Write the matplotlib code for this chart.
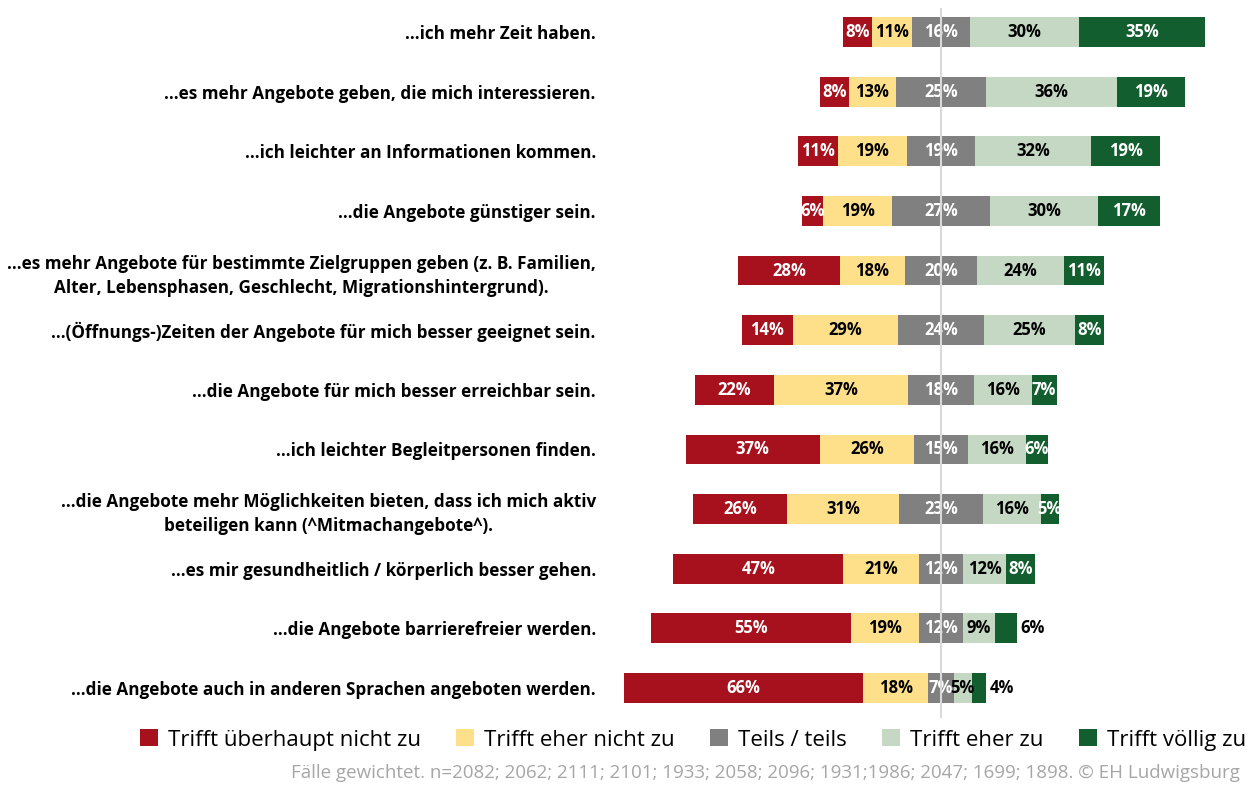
import matplotlib
matplotlib.use("Agg")
import matplotlib.pyplot as plt
from matplotlib.patches import Patch
import numpy as np

plt.rcParams['font.family'] = ['Open Sans', 'DejaVu Sans']

categories = [
    "...ich mehr Zeit haben.",
    "...es mehr Angebote geben, die mich interessieren.",
    "...ich leichter an Informationen kommen.",
    "...die Angebote günstiger sein.",
    "...es mehr Angebote für bestimmte Zielgruppen geben (z. B. Familien,\nAlter, Lebensphasen, Geschlecht, Migrationshintergrund).",
    "...(Öffnungs-)Zeiten der Angebote für mich besser geeignet sein.",
    "...die Angebote für mich besser erreichbar sein.",
    "...ich leichter Begleitpersonen finden.",
    "...die Angebote mehr Möglichkeiten bieten, dass ich mich aktiv\nbeteiligen kann (^Mitmachangebote^).",
    "...es mir gesundheitlich / körperlich besser gehen.",
    "...die Angebote barrierefreier werden.",
    "...die Angebote auch in anderen Sprachen angeboten werden.",
]

series_names = ["Trifft überhaupt nicht zu", "Trifft eher nicht zu", "Teils / teils",
                "Trifft eher zu", "Trifft völlig zu"]

trifft_ueberhaupt_nicht = [8, 8, 11, 6, 28, 14, 22, 37, 26, 47, 55, 66]
trifft_eher_nicht       = [11, 13, 19, 19, 18, 29, 37, 26, 31, 21, 19, 18]
teils_teils             = [16, 25, 19, 27, 20, 24, 18, 15, 23, 12, 12, 7]
trifft_eher             = [30, 36, 32, 30, 24, 25, 16, 16, 16, 12, 9, 5]
trifft_voellig          = [35, 19, 19, 17, 11, 8, 7, 6, 5, 8, 6, 4]

# label of last segment placed outside the bar
last_outside = [False] * 10 + [True, True]

footer = "Fälle gewichtet. n=2082; 2062; 2111; 2101; 1933; 2058; 2096; 1931;1986; 2047; 1699; 1898. © EH Ludwigsburg"

colors = ["#a6111d", "#fee08b", "#808080", "#c4d8c4", "#135e2e"]
text_colors = ["white", "black", "white", "black", "white"]

data = np.array([trifft_ueberhaupt_nicht, trifft_eher_nicht, teils_teils,
                 trifft_eher, trifft_voellig], dtype=float)

W, H = 1260, 787
fig = plt.figure(figsize=(W / 100, H / 100), dpi=100)
ax_left, ax_right = 600, 1250
ax_top, ax_bottom = 2.2, 717.8
ax = fig.add_axes([ax_left / W, 1 - ax_bottom / H, (ax_right - ax_left) / W, (ax_bottom - ax_top) / H])

center_px, scale = 941, 3.62
ax.set_xlim((ax_left - center_px) / scale, (ax_right - center_px) / scale)
ax.set_ylim(len(categories) - 0.5, -0.5)

y = np.arange(len(categories))
start = -(data[0] + data[1] + data[2] / 2)
left = start.copy()
for k in range(5):
    ax.barh(y, data[k], left=left, height=0.5, color=colors[k], edgecolor='none')
    for i in range(len(categories)):
        v = data[k, i]
        if k == 4 and last_outside[i]:
            ax.text(left[i] + v + 1.0, y[i], f"{int(v)}%", ha='left', va='center',
                    color='black', fontsize=12, fontweight='bold')
        else:
            ax.text(left[i] + v / 2, y[i], f"{int(v)}%", ha='center', va='center',
                    color=text_colors[k], fontsize=12, fontweight='bold')
    left = left + data[k]

ax.axvline(0, ymin=0.0, ymax=0.99, color='#d9d9d9', lw=1.5, zorder=5)

ax.set_yticks(y)
ax.set_yticklabels(categories, fontsize=12.3, fontweight='bold', multialignment='center',
                   linespacing=1.45)
ax.tick_params(axis='y', length=0, pad=3)
ax.tick_params(axis='x', length=0, labelbottom=False)
for s in ax.spines.values():
    s.set_visible(False)

handles = [Patch(facecolor=c, edgecolor='none') for c in colors]
fig.legend(handles, series_names, loc='center', bbox_to_anchor=(693 / W, 1 - 740 / H),
           ncol=5, frameon=False, fontsize=16, handlelength=0.8, handleheight=0.8,
           handletextpad=0.45, columnspacing=1.6)

fig.text(1240 / W, 1 - 773 / H, footer, ha='right', va='center', color='#a6a6a6', fontsize=13.5)

fig.savefig("out.png", dpi=100)
